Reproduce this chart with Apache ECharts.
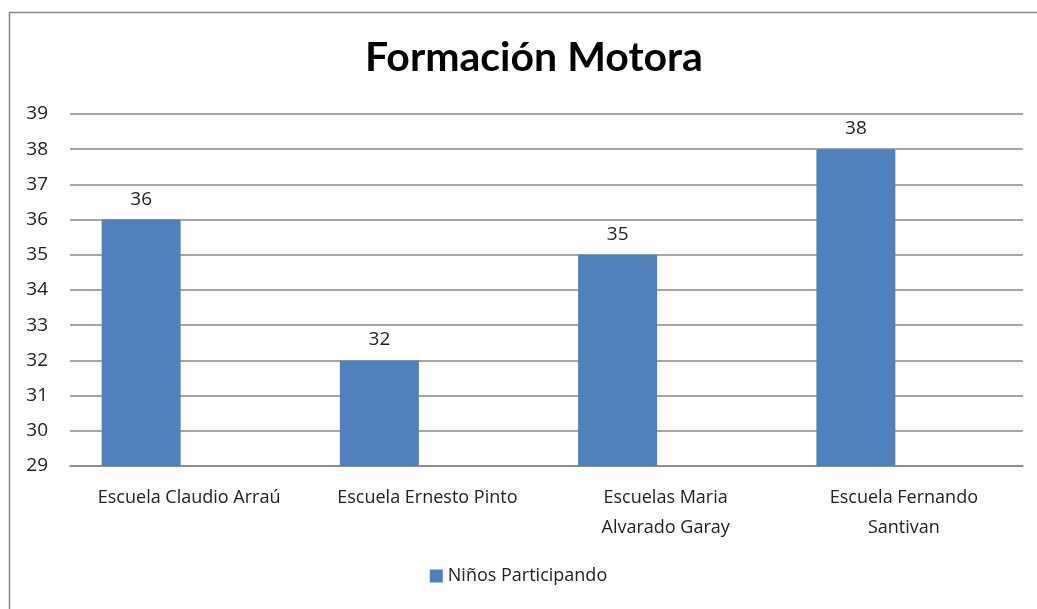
<!DOCTYPE html>
<html>
<head>
<meta charset="utf-8">
<script src="https://cdn.jsdelivr.net/npm/echarts@6/dist/echarts.min.js"></script>
<style>
  html, body { margin: 0; padding: 0; background: #fff; }
  #chart { width: 1037px; height: 609px; }
</style>
</head>
<body>
<div id="chart"></div>
<script>
// datos del gráfico
const escuelas = ['Escuela Claudio Arraú', 'Escuela Ernesto Pinto', 'Escuelas Maria\nAlvarado Garay', 'Escuela Fernando\nSantivan']
const ninosParticipando = [36, 32, 35, 38]
const serieVacia = [null, null, null, null]  // segunda serie vacía (desplaza las barras a la izquierda)
const yMin = 29
const yMax = 39

const chart = echarts.init(document.getElementById('chart'))
const font = 'Open Sans'

chart.setOption({
  animation: false,
  textStyle: { fontFamily: font },
  title: {
    text: 'Formación Motora',
    left: 360,
    top: 32,
    textStyle: { fontFamily: 'Lato', fontWeight: 'bold', fontSize: 41, color: '#000' },
  },
  // marco exterior del gráfico
  graphic: [{
    type: 'rect',
    shape: { x: 9.5, y: 12.5, width: 1100, height: 700 },
    style: { fill: null, stroke: '#888', lineWidth: 1.5 },
    silent: true,
  }],
  legend: {
    data: ['Niños Participando'],
    bottom: 19,
    left: 'center',
    icon: 'rect',
    itemWidth: 13,
    itemHeight: 13,
    itemGap: 5,
    textStyle: { fontFamily: font, fontSize: 18, color: '#222' },
  },
  grid: { left: 70, right: 14, top: 114, bottom: 143 },
  xAxis: {
    type: 'category',
    data: escuelas,
    axisLine: { lineStyle: { color: '#888', width: 1.5 } },
    axisTick: { show: false },
    axisLabel: { fontFamily: font, fontSize: 18, color: '#222', margin: 17, lineHeight: 30, interval: 0 },
  },
  yAxis: {
    type: 'value',
    min: yMin,
    max: yMax,
    interval: 1,
    axisLine: { show: false },
    axisTick: { show: false },
    axisLabel: { fontFamily: font, fontSize: 19, color: '#222', margin: 22 },
    splitLine: { lineStyle: { color: '#888', width: 1.5 } },
  },
  series: [
    {
      name: 'Niños Participando',
      type: 'bar',
      data: ninosParticipando,
      barWidth: 79,
      barGap: '21.5%',
      itemStyle: { color: '#4F81BD' },
      label: { show: true, position: 'top', distance: 11, fontFamily: font, fontSize: 19, color: '#222' },
    },
    {
      name: 'vacía',
      type: 'bar',
      data: serieVacia,
      barWidth: 79,
      barGap: '21.5%',
      silent: true,
    },
  ],
})
</script>
</body>
</html>
